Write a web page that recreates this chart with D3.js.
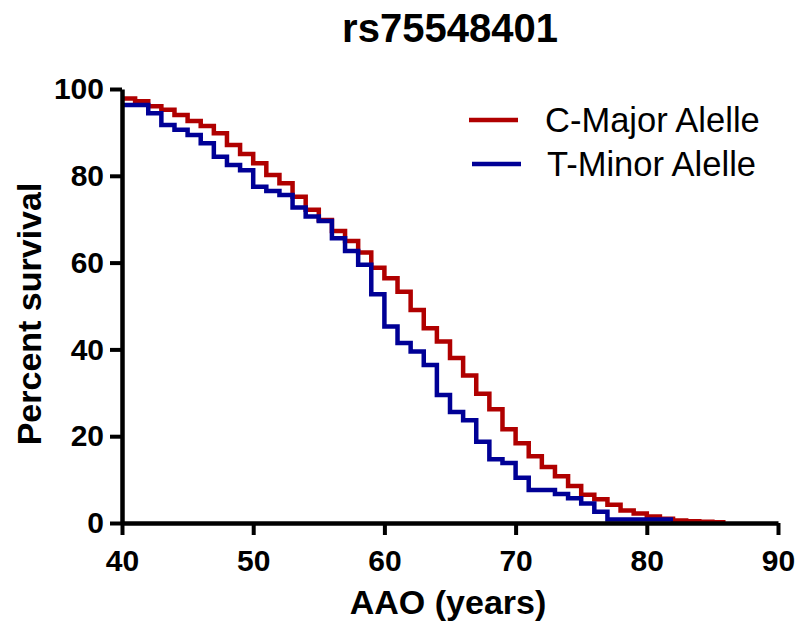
<!DOCTYPE html>
<html>
<head>
<meta charset="utf-8">
<script src="https://cdn.jsdelivr.net/npm/d3@7"></script>
<style>
  html, body { margin: 0; padding: 0; background: #fff; }
  svg { display: block; }
  text { font-family: "Liberation Sans", Arial, Helvetica, sans-serif; fill: #000; }
</style>
</head>
<body>
<svg id="chart" width="800" height="633"></svg>
<script>
// ---- data ----
const chartTitle = "rs75548401";
const xTickValues = [40, 50, 60, 70, 80, 90];
const yTickValues = [0, 20, 40, 60, 80, 100];
const seriesNames = ["C-Major Alelle", "T-Minor Alelle"];
const seriesColors = ["#b00000", "#000096"];

// C-Major Alelle: step start ages (AAO, years) and percent survival
const majorAges = [40, 41, 42, 43, 44, 45, 46, 47, 48, 49, 50, 51, 52, 53, 54, 55, 56, 57, 58, 59,
                   60, 61, 62, 63, 64, 65, 66, 67, 68, 69, 70, 71, 72, 73, 74, 75, 76, 77, 78, 79,
                   80, 81, 82, 83, 84, 85, 86];
const majorSurvival = [97.8, 97.2, 96.0, 95.2, 94.0, 92.6, 91.5, 89.8, 87.1, 85.0, 82.9, 80.2, 78.3, 75.2, 72.2, 69.8, 67.3, 65.0, 62.3, 58.8,
                       56.4, 53.3, 49.1, 44.9, 41.8, 38.0, 34.0, 29.8, 26.2, 21.6, 18.4, 15.4, 12.9, 10.8, 8.5, 6.5, 5.5, 4.2, 2.9, 2.2,
                       1.5, 1.0, 0.6, 0.4, 0.3, 0.2, 0.2];

// T-Minor Alelle
const minorAges = [40, 42, 43, 44, 45, 46, 47, 48, 49, 50, 51, 52, 53, 54, 55, 56, 57, 58, 59,
                   60, 61, 62, 63, 64, 65, 66, 67, 68, 69, 70, 71, 73, 74, 75, 76, 77, 82];
const minorSurvival = [96.3, 94.4, 91.7, 90.6, 89.4, 87.5, 84.4, 82.5, 81.3, 77.5, 76.5, 75.6, 72.7, 70.6, 69.6, 65.6, 62.7, 59.5, 52.7,
                       45.3, 41.5, 39.5, 36.4, 29.5, 25.6, 23.7, 18.7, 14.7, 13.8, 10.4, 7.6, 6.7, 5.7, 4.5, 2.6, 0.8, 0.8];

// ---- chart ----
const svg = d3.select("#chart");
const x = d3.scaleLinear().domain([40, 90]).range([122, 778]);
const y = d3.scaleLinear().domain([0, 100]).range([523, 89]);

// title
svg.append("text")
  .attr("x", 450).attr("y", 42)
  .attr("text-anchor", "middle")
  .style("font-size", "40px").style("font-weight", "bold")
  .text(chartTitle);

// curves
const line = d3.line().x(d => x(d[0])).y(d => y(d[1])).curve(d3.curveStepAfter);
const series = [
  { name: seriesNames[0], color: seriesColors[0], pts: d3.zip(majorAges, majorSurvival) },
  { name: seriesNames[1], color: seriesColors[1], pts: d3.zip(minorAges, minorSurvival) }
];
svg.selectAll("path.curve").data(series).enter().append("path")
  .attr("class", "curve")
  .attr("d", d => line(d.pts))
  .attr("fill", "none")
  .attr("stroke", d => d.color)
  .attr("stroke-width", 4.5)
  .attr("stroke-linejoin", "miter")
  .attr("stroke-linecap", "butt");

// axes
const xAxis = svg.append("g").attr("transform", `translate(0,${y(0)})`)
  .call(d3.axisBottom(x).tickValues(xTickValues).tickSize(12).tickSizeOuter(0).tickPadding(10));
const yAxis = svg.append("g").attr("transform", `translate(${x(40)},0)`)
  .call(d3.axisLeft(y).tickValues(yTickValues).tickSize(12).tickSizeOuter(0).tickPadding(6));
[xAxis, yAxis].forEach(g => {
  g.select(".domain").attr("stroke", "#000").attr("stroke-width", 4.5);
  g.selectAll(".tick line").attr("stroke", "#000").attr("stroke-width", 4);
  g.selectAll(".tick text")
    .style("font-size", "30px").style("font-weight", "bold")
    .style("font-family", "'Liberation Sans', Arial, sans-serif");
});
xAxis.selectAll(".tick text").attr("dy", "0.85em");

// axis titles
svg.append("text")
  .attr("x", 448).attr("y", 614)
  .attr("text-anchor", "middle")
  .style("font-size", "34px").style("font-weight", "bold")
  .text("AAO (years)");
svg.append("text")
  .attr("transform", "translate(41,314) rotate(-90)")
  .attr("text-anchor", "middle")
  .style("font-size", "34px").style("font-weight", "bold")
  .text("Percent survival");

// legend
const legend = svg.append("g");
const legendY = [120, 164];
series.forEach((s, i) => {
  legend.append("line")
    .attr("x1", 469 + i * 3).attr("x2", 518 + i * 3)
    .attr("y1", legendY[i]).attr("y2", legendY[i])
    .attr("stroke", s.color).attr("stroke-width", 4.5);
  legend.append("text")
    .attr("x", 545 + i * 2).attr("y", legendY[i] + 12)
    .style("font-size", "34.5px")
    .text(s.name);
});
</script>
</body>
</html>
